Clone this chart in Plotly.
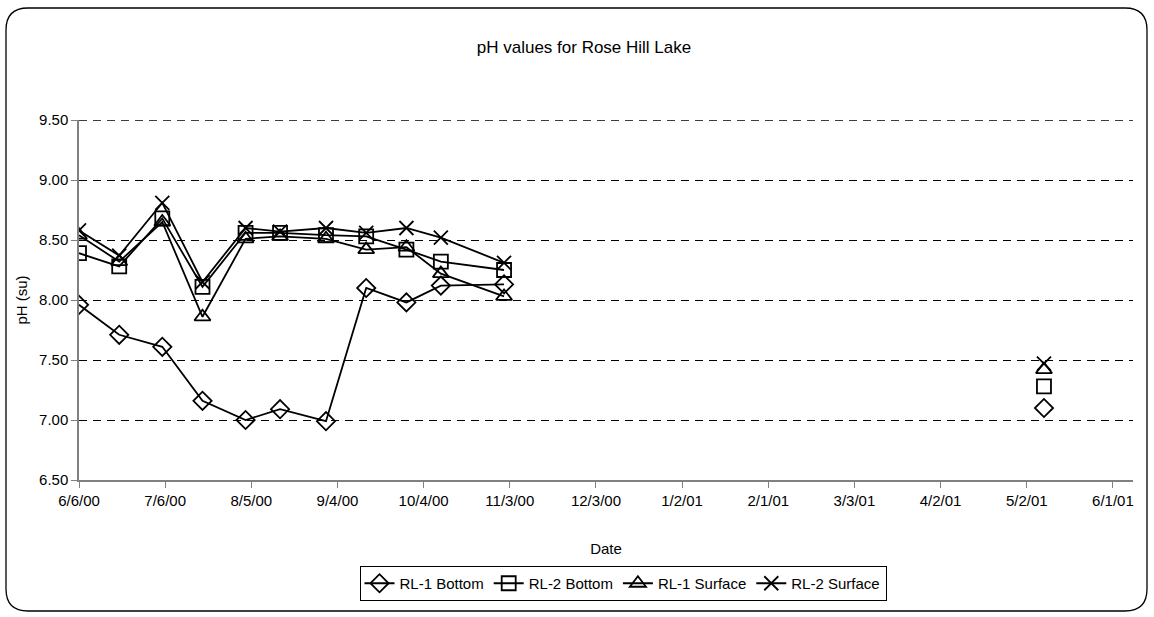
import plotly.graph_objects as go

dates = ["2000-06-06", "2000-06-20", "2000-07-05", "2000-07-19", "2000-08-03",
         "2000-08-15", "2000-08-31", "2000-09-14", "2000-09-28", "2000-10-10",
         "2000-11-01", "2001-05-08"]

rl1_bottom = [7.96, 7.71, 7.61, 7.16, 7.00, 7.09, 6.99, 8.10, 7.98, 8.12, 8.13, 7.10]
rl2_bottom = [8.39, 8.28, 8.68, 8.11, 8.56, 8.56, 8.54, 8.53, 8.42, 8.32, 8.25, 7.28]
rl1_surface = [8.54, 8.32, 8.65, 7.86, 8.51, 8.53, 8.51, 8.42, 8.44, 8.22, 8.03, 7.42]
rl2_surface = [8.58, 8.37, 8.81, 8.15, 8.60, 8.57, 8.60, 8.56, 8.60, 8.52, 8.31, 7.47]

series = [
    ("RL-1 Bottom", rl1_bottom, "diamond-open"),
    ("RL-2 Bottom", rl2_bottom, "square-open"),
    ("RL-1 Surface", rl1_surface, "triangle-up-open"),
    ("RL-2 Surface", rl2_surface, "x-thin-open"),
]

tick_vals = ["2000-06-06", "2000-07-06", "2000-08-05", "2000-09-04", "2000-10-04",
             "2000-11-03", "2000-12-03", "2001-01-02", "2001-02-01", "2001-03-03",
             "2001-04-02", "2001-05-02", "2001-06-01"]
tick_text = ["6/6/00", "7/6/00", "8/5/00", "9/4/00", "10/4/00", "11/3/00", "12/3/00",
             "1/2/01", "2/1/01", "3/3/01", "4/2/01", "5/2/01", "6/1/01"]

y_min, y_max = 6.5, 9.5

FONT = "Liberation Sans Narrow, Arial Narrow, Liberation Sans, Arial, sans-serif"
DASH = "8px,6px"

fig = go.Figure()
for name, vals, sym in series:
    fig.add_trace(go.Scatter(
        x=dates[:11], y=vals[:11], name=name, mode="lines+markers",
        line=dict(color="black", width=1.8),
        marker=dict(symbol=sym, size=14, color="black", line=dict(color="black", width=1.8)),
        legendgroup=name,
    ))
    fig.add_trace(go.Scatter(
        x=dates[11:], y=vals[11:], name=name, mode="markers", showlegend=False,
        marker=dict(symbol=sym, size=14, color="black", line=dict(color="black", width=1.8)),
        legendgroup=name,
    ))

W, H = 1154, 617
L, R, T, B = 79, 1133, 120, 480

def px(x, y):
    return (x - L) / (R - L), (B - y) / (B - T)

def rounded_rect(x0, y0, x1, y1, r):
    def p(x, y):
        a, b = px(x, y)
        return f"{a:.5f},{b:.5f}"
    path = f"M {p(x0 + r, y0)} L {p(x1 - r, y0)} Q {p(x1, y0)} {p(x1, y0 + r)} "
    path += f"L {p(x1, y1 - r)} Q {p(x1, y1)} {p(x1 - r, y1)} "
    path += f"L {p(x0 + r, y1)} Q {p(x0, y1)} {p(x0, y1 - r)} "
    path += f"L {p(x0, y0 + r)} Q {p(x0, y0)} {p(x0 + r, y0)} Z"
    return path

fig.add_shape(type="path", xref="paper", yref="paper",
              path=rounded_rect(6, 8, 1147, 611, 22),
              line=dict(color="black", width=1.3), layer="below")

# top gridline (Plotly hides the grid line at the very edge of the range)
fig.add_shape(type="line", xref="paper", yref="y", x0=0, x1=1, y0=y_max, y1=y_max,
              line=dict(color="black", width=1.3, dash=DASH), layer="below")

fig.update_layout(
    width=W, height=H,
    margin=dict(l=L, r=W - R, t=T, b=H - B, autoexpand=False),
    paper_bgcolor="white", plot_bgcolor="white",
    font=dict(family=FONT, size=15, color="black"),
    title=dict(text="pH values for Rose Hill Lake", x=584 / W, xanchor="center",
               y=1 - 47 / H, yanchor="middle", font=dict(family=FONT, size=17, color="black")),
    showlegend=True,
    legend=dict(orientation="h", x=(623 - L) / (R - L), xanchor="center",
                y=(B - 566) / (B - T), yanchor="top",
                bordercolor="black", borderwidth=1, bgcolor="white",
                font=dict(family=FONT, size=15, color="black"),
                itemwidth=30, tracegroupgap=0),
    xaxis=dict(type="date", range=["2000-06-06", "2001-06-08"],
               tickmode="array", tickvals=tick_vals, ticktext=tick_text,
               showgrid=False, zeroline=False,
               showline=True, linecolor="#808080", linewidth=1.5,
               ticks="outside", ticklen=6, tickcolor="#808080",
               tickfont=dict(family=FONT, size=15, color="black"),
               title=dict(text="Date", font=dict(family=FONT, size=15, color="black"), standoff=36)),
    yaxis=dict(range=[y_min, y_max], dtick=0.5, tick0=y_min, tickformat=".2f",
               showgrid=True, gridcolor="black", griddash=DASH, gridwidth=1,
               zeroline=False, showline=True, linecolor="#808080", linewidth=1.5,
               ticks="outside", ticklen=6, tickcolor="#808080",
               tickfont=dict(family=FONT, size=15, color="black"),
               title=dict(text="pH (su)", font=dict(family=FONT, size=15, color="black"), standoff=8)),
)

fig.write_html("out.html", config={"displayModeBar": False},
               post_script="document.body.style.margin='0';")
